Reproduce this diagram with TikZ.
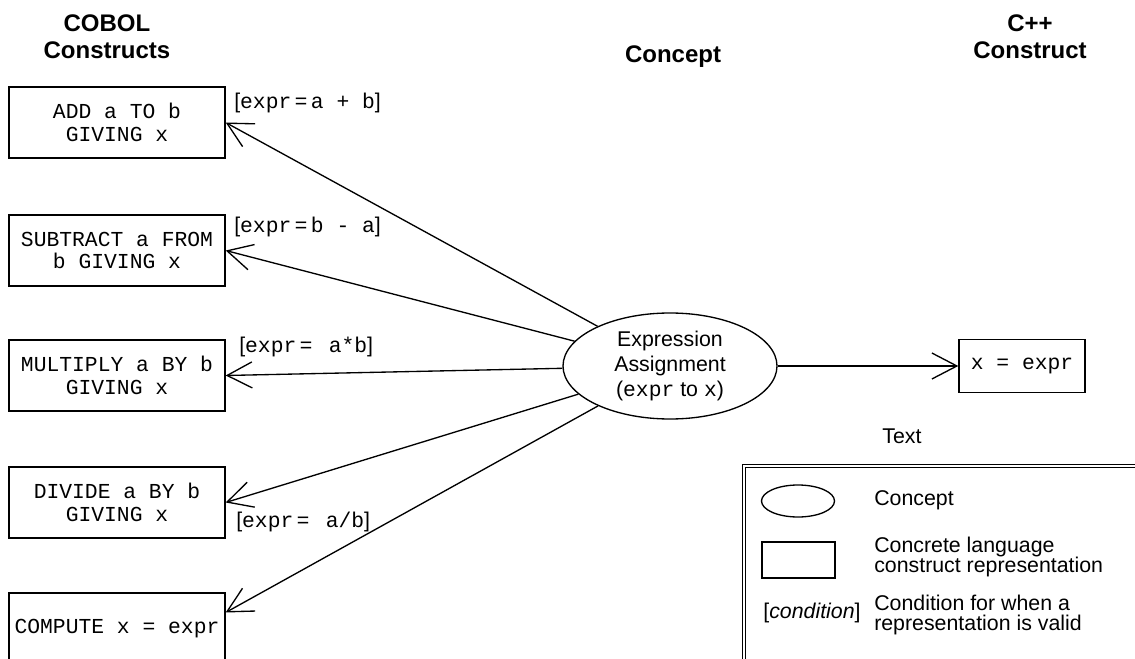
\documentclass[tikz,border=0pt]{standalone}
\usepackage{fontspec}
\setmainfont{Liberation Sans}
\setsansfont{Liberation Sans}
\setmonofont{Liberation Mono}
\usetikzlibrary{arrows.meta,shapes.geometric}

\begin{document}
\begin{tikzpicture}[x=0.75pt,y=0.75pt,yscale=-1,xscale=1,
    cobolbox/.style={draw,line width=1pt,minimum width=162pt,minimum height=53.25pt,inner sep=1pt,align=center,font=\fontsize{16}{17}\selectfont\ttfamily},
    header/.style={align=center,inner sep=0.75pt,font=\fontsize{18}{20.5}\selectfont\bfseries},
    cond/.style={anchor=west,inner sep=0.75pt,font=\fontsize{16}{16}\selectfont},
    legtext/.style={anchor=west,align=left,inner sep=0.75pt,font=\fontsize{16}{15}\selectfont},
    maparrow/.style={line width=1pt,-{Straight Barb[length=18.75pt,width=19.5pt,line width=1pt]}}]
        \useasboundingbox (0,0) rectangle (1135,659);
        \clip (0,0) rectangle (1135,659);

        \node (hcobol) [header] at (107,37) {COBOL\\Constructs};
        \node (hconcept) [header,anchor=base] at (673,63) {Concept};
        \node (hcpp) [header] at (1030,37) {C++\\Construct};

        \node (c1) [cobolbox] at (117,122.5) {ADD a TO b\\GIVING x};
        \node (c2) [cobolbox] at (117,250.5) {SUBTRACT a FROM\\b GIVING x};
        \node (c3) [cobolbox] at (117,375.5) {MULTIPLY a BY b\\GIVING x};
        \node (c4) [cobolbox] at (117,502.5) {DIVIDE a BY b\\GIVING x};
        \node (c5) [cobolbox] at (117,628.5) {COMPUTE x = expr};

        \node (concept) [draw,ellipse,line width=1pt,minimum width=160.5pt,minimum height=79.5pt,inner sep=0pt,align=center,font=\fontsize{16}{19}\selectfont] at (670,366) {Expression\\Assignment\\(\texttt{expr} to \texttt{x})};
        \node (cpp) [draw,line width=1pt,minimum width=94.5pt,minimum height=39.75pt,inner sep=1pt,font=\fontsize{16}{17}\selectfont\ttfamily] at (1022,366) {x = expr};

        \node (l1) [cond] at (233,103) {[\texttt{expr}\,=\,\texttt{a + b}]};
        \node (l2) [cond] at (233,227) {[\texttt{expr}\,=\,\texttt{b - a}]};
        \node (l3) [cond] at (238,347) {[\texttt{expr}\,=\,\texttt{~a*b}]};
        \node (l4) [cond] at (235,522) {[\texttt{expr}\,=\,\texttt{~a/b}]};

        \draw [maparrow] (concept) -- (c1.east);
        \draw [maparrow] (concept) -- (c2.east);
        \draw [maparrow] (concept) -- (c3.east);
        \draw [maparrow] (concept) -- (c4.east);
        \draw [maparrow] (concept) -- ([yshift=-12pt]c5.east);
        \draw [maparrow] (concept) -- (cpp);

        \node (ltitle) [anchor=base,inner sep=0.75pt,font=\fontsize{16}{16}\selectfont] at (902,443) {Text};
        \draw [line width=0.9pt,double,double distance=1.6pt] (744,466) rectangle (1160,690);
        \node (lell) [draw,ellipse,line width=1pt,minimum width=54.75pt,minimum height=24pt,inner sep=0pt] at (798,501) {};
        \node (lbox) [draw,line width=1pt,minimum width=54.75pt,minimum height=27pt,inner sep=0pt] at (798.5,560) {};
        \node (lcond) [inner sep=0.75pt,font=\fontsize{16}{16}\selectfont] at (812,613) {[\textit{condition}]};
        \node (tell) [legtext] at (873,500) {Concept};
        \node (tbox) [legtext] at (873,557) {Concrete language\\construct representation};
        \node (tcond) [legtext] at (873,615) {Condition for when a\\representation is valid};
\end{tikzpicture}
\end{document}
